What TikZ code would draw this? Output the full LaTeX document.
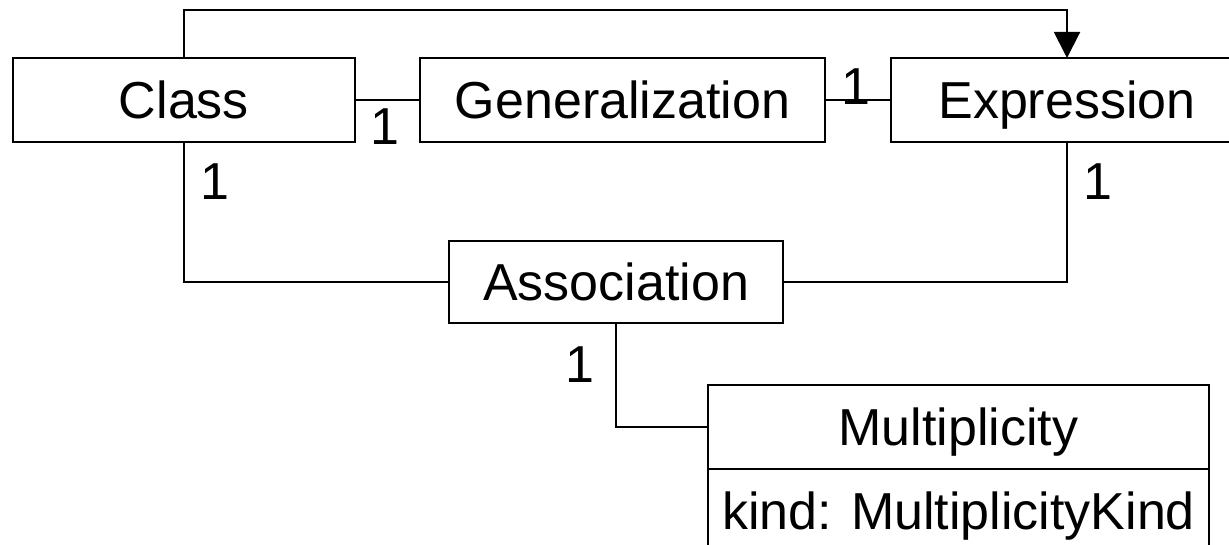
\documentclass[tikz,border=0pt]{standalone}
\usepackage{fontspec}
\setmainfont{Liberation Sans}
\usetikzlibrary{arrows.meta}
\begin{document}
\begin{tikzpicture}[x=1pt,y=-1pt,
  line width=2pt,
  umltext/.style={font=\fontsize{52}{60}\selectfont, text height=37pt, text depth=0pt},
  classbox/.style={draw, umltext, inner sep=0pt, outer sep=0pt, minimum height=84pt},
  mult/.style={umltext, inner sep=0pt},
  assoc/.style={draw},
  gen/.style={draw, -{Triangle[width=26pt,length=26pt]}}]
\useasboundingbox (0,0) rectangle (1229,545);
\clip (0,0) rectangle (1229,545);

% classes
\node[classbox, minimum width=342pt] (class) at (184,100) {Class};
\node[classbox, minimum width=405pt] (gener) at (622.5,100) {Generalization};
\node[classbox, minimum width=352pt] (expr) at (1067,100) {Expression};
\node[classbox, minimum width=334pt, minimum height=82pt] (assoc) at (616,282) {Association};
\node[classbox, minimum width=501pt] (multi) at (958.5,427) {Multiplicity};
\node[classbox, minimum width=501pt, anchor=north] (multiattr) at (multi.south) {kind: MultiplicityKind};

% helper points for the routed connectors
\coordinate (topleft) at (184,10);
\coordinate (topright) at (1067,10);

% generalization arrow from Class to Expression
\draw[gen] (class.north) -- (topleft) -- (topright) -- (expr.north);

% associations
\draw[assoc] (class.east) -- (gener.west);
\draw[assoc] (gener.east) -- (expr.west);
\draw[assoc] (class.south) |- (assoc.west);
\draw[assoc] (expr.south) |- (assoc.east);
\draw[assoc] (assoc.south) |- (multi.west);

% multiplicities
\node[mult] (m1) at (385,126) {1};
\node[mult] (m2) at (856,86) {1};
\node[mult] (m3) at (215,181) {1};
\node[mult] (m4) at (1098,181) {1};
\node[mult] (m5) at (580,364) {1};
\end{tikzpicture}
\end{document}
